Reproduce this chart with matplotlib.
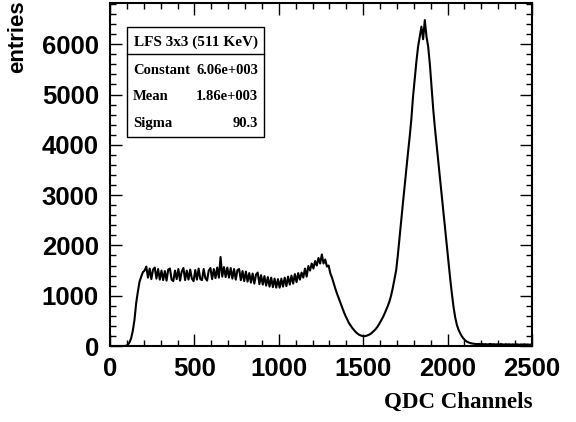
import numpy as np
import matplotlib
matplotlib.use('Agg')
import matplotlib.pyplot as plt
from matplotlib.ticker import MultipleLocator
from matplotlib.patches import Rectangle
from matplotlib.lines import Line2D

# QDC spectrum, 10-channel bins starting at channel 0 (values read off the picture,
# including the visible bin-to-bin scatter on the Compton plateau)
bin_width = 10
counts = [
    0, 0, 0, 0, 0, 0, 0, 0, 0, 5,                                       # 0-90
    20, 70, 150, 300, 520, 850, 1080, 1280, 1380, 1470,                 # 100-190
    1500, 1580, 1360, 1540, 1330, 1520, 1560, 1340, 1530, 1320,         # 200-290
    1500, 1310, 1490, 1300, 1520, 1540, 1320, 1290, 1500, 1330,         # 300-390
    1530, 1300, 1480, 1550, 1310, 1500, 1320, 1520, 1340, 1290,         # 400-490
    1510, 1320, 1540, 1330, 1310, 1530, 1350, 1300, 1500, 1550,         # 500-590
    1330, 1530, 1350, 1560, 1360, 1770, 1380, 1570, 1370, 1560,         # 600-690
    1360, 1550, 1340, 1530, 1320, 1510, 1530, 1310, 1490, 1290,         # 700-790
    1480, 1280, 1450, 1260, 1440, 1240, 1420, 1460, 1230, 1410,         # 800-890
    1220, 1390, 1200, 1370, 1180, 1360, 1170, 1340, 1160, 1330,         # 900-990
    1160, 1340, 1180, 1360, 1190, 1380, 1220, 1400, 1240, 1430,         # 1000-1090
    1270, 1450, 1320, 1460, 1360, 1540, 1380, 1590, 1500, 1640,         # 1100-1190
    1540, 1690, 1600, 1750, 1640, 1820, 1640, 1720, 1580, 1600,         # 1200-1290
    1450, 1360, 1250, 1140, 1040, 950, 860, 770, 680, 600,              # 1300-1390
    530, 460, 410, 360, 320, 280, 250, 225, 210, 200,                   # 1400-1490
    195, 200, 210, 225, 245, 275, 305, 340, 385, 440,                   # 1500-1590
    500, 560, 630, 710, 790, 880, 1000, 1150, 1330, 1500,               # 1600-1690
    1800, 2150, 2500, 2830, 3170, 3500, 3830, 4150, 4500, 4950,         # 1700-1790
    5300, 5650, 5950, 6150, 6350, 6100, 6480, 6150, 5950, 5600,         # 1800-1890
    5150, 4700, 4330, 3990, 3650, 3330, 3000, 2670, 2340, 2000,         # 1900-1990
    1670, 1350, 1050, 780, 570, 420, 320, 250, 190, 145,                # 2000-2090
    110, 85, 70, 58, 50, 45, 40, 38, 42, 35,                            # 2100-2190
    40, 33, 38, 30, 36, 41, 32, 37, 29, 35,                             # 2200-2290
    31, 38, 34, 28, 36, 30, 35, 27, 33, 29,                             # 2300-2390
    34, 30, 26, 32, 28, 35, 27, 31, 25, 30,                             # 2400-2490
]

fit_title = 'LFS 3x3 (511 KeV)'
fit_names = ['Constant', 'Mean', 'Sigma']
fit_values = ['6.06e+003', '1.86e+003', '90.3']

W, H = 576, 422
fig = plt.figure(figsize=(W / 100, H / 100), dpi=100)


def fx(px):
    return px / W


def fy(py):
    return 1 - py / H


ax = fig.add_axes([fx(110), fy(346), fx(532) - fx(110), fy(3) - fy(346)])

centers = np.arange(len(counts)) * bin_width + bin_width / 2
ax.plot(centers, counts, color='black', linewidth=1.5)

ax.set_xlim(0, 2500)
ax.set_ylim(0, 6820)
ax.xaxis.set_major_locator(MultipleLocator(500))
ax.xaxis.set_minor_locator(MultipleLocator(100))
ax.yaxis.set_major_locator(MultipleLocator(1000))
ax.yaxis.set_minor_locator(MultipleLocator(200))
ax.tick_params(which='both', direction='in', top=True, right=True,
               width=1.0, color='black')
ax.tick_params(which='major', length=8.5)
ax.tick_params(which='minor', length=4.3)
ax.tick_params(axis='x', which='major', pad=8)
ax.tick_params(axis='y', which='major', pad=8)
for lab in ax.get_xticklabels() + ax.get_yticklabels():
    lab.set_fontfamily('Liberation Sans')
    lab.set_fontweight('bold')
    lab.set_fontsize(18.5)
for sp in ax.spines.values():
    sp.set_linewidth(1.5)

# axis titles, ROOT style
fig.text(fx(18), fy(0), 'entries', rotation=90, ha='center', va='top',
         family='Liberation Sans', weight='bold', fontsize=16)
fig.text(fx(532), fy(402), 'QDC Channels', ha='right', va='center',
         family='Liberation Serif', weight='bold', fontsize=16.5)

# fit statistics box
box = Rectangle((fx(127), fy(137)), fx(264) - fx(127), fy(27) - fy(137),
                transform=fig.transFigure, facecolor='white',
                edgecolor='black', linewidth=1.0, zorder=5)
fig.patches.append(box)
fig.lines.append(Line2D([fx(127), fx(264)], [fy(54), fy(54)],
                        transform=fig.transFigure, color='black',
                        linewidth=1.0, zorder=6))
fig.text(fx(195.5), fy(42), fit_title, ha='center', va='center',
         family='Liberation Serif', weight='bold', fontsize=11, zorder=7)
row_y = [70, 97, 124]
for name, val, py in zip(fit_names, fit_values, row_y):
    fig.text(fx(133), fy(py), name, ha='left', va='center',
             family='Liberation Serif', weight='bold', fontsize=10.5, zorder=7)
    fig.text(fx(258), fy(py), val, ha='right', va='center',
             family='Liberation Serif', weight='bold', fontsize=10.5, zorder=7)

fig.savefig('out.png', dpi=100, facecolor='white')
